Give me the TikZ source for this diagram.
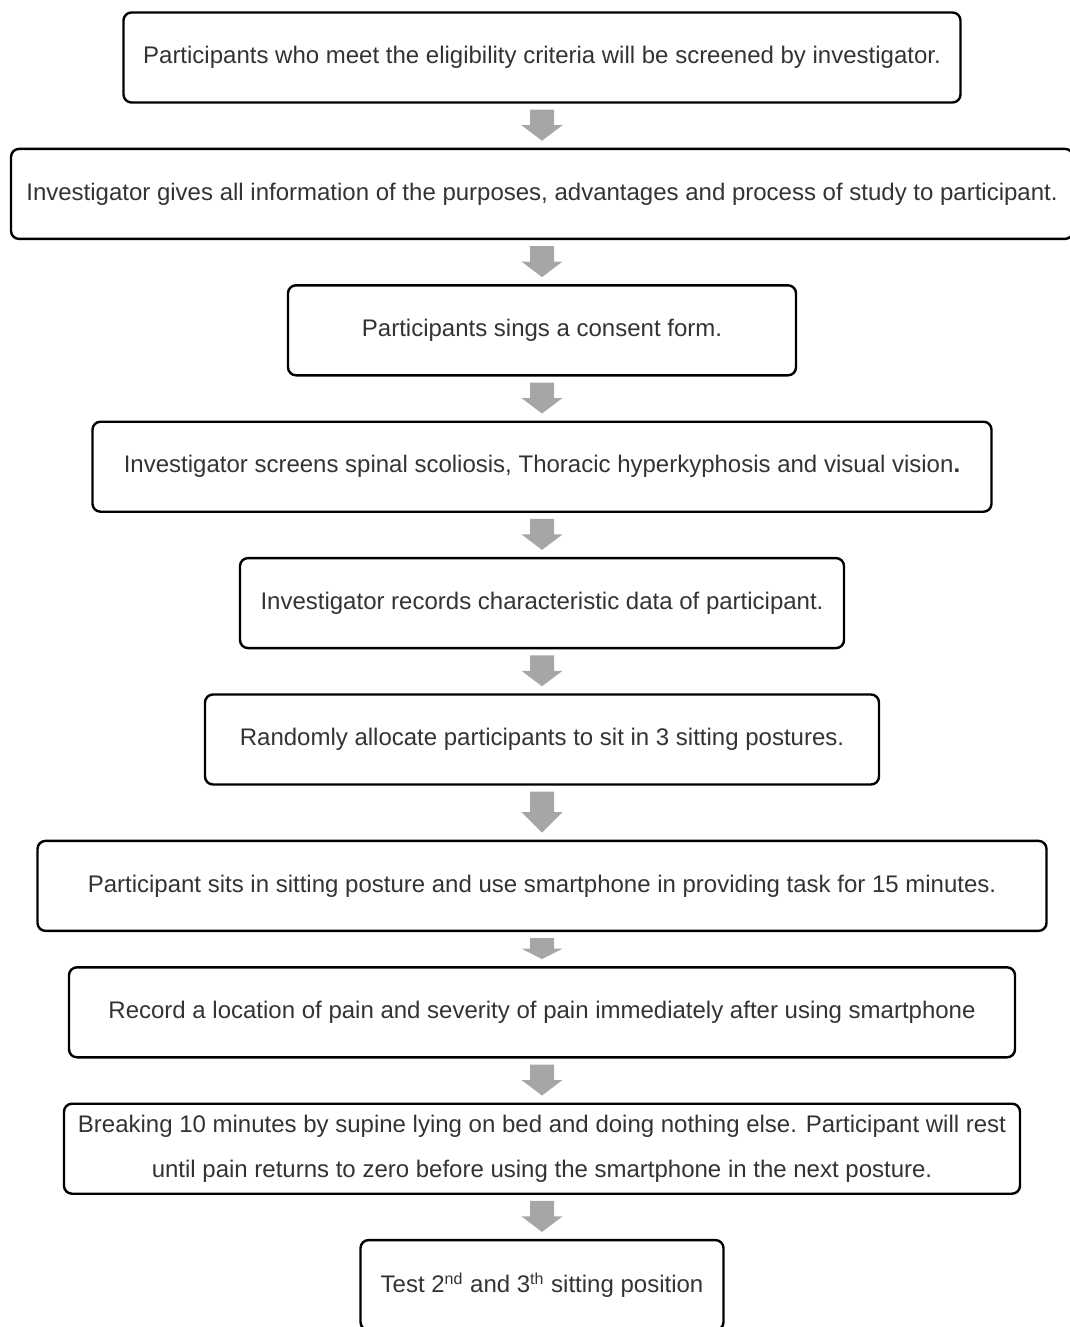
\documentclass[tikz,border=0pt]{standalone}
\usepackage{fontspec}
\setmainfont{Liberation Sans}
\usetikzlibrary{positioning,calc}
\tikzset{
  stepbox/.style   = {shape=rectangle, rounded corners=4pt,
                      draw=black, line width=1.2pt, align=center,
                      minimum height=45pt, inner sep=0pt,
                      text=black!80, font=\fontsize{12}{22.5}\selectfont},
  flowarrow/.style = {fill=black!35, draw=none},
}
% grey block arrow between two boxes
\newcommand{\blockarrow}[2]{%
  \coordinate (#1-top) at ($(#1.south)+(0,-3pt)$);
  \coordinate (#1-tip) at ($(#2.north)+(0,3.5pt)$);
  \coordinate (#1-mid) at ($(#1-top)!0.5!(#1-tip)$);
  \fill[flowarrow] ($(#1-top)+(-6pt,0)$) -- ($(#1-top)+(6pt,0)$)
    -- ($(#1-mid)+(6pt,0)$) -- ($(#1-mid)+(10.25pt,0)$) -- (#1-tip)
    -- ($(#1-mid)+(-10.25pt,0)$) -- ($(#1-mid)+(-6pt,0)$) -- cycle;}

\begin{document}
\begin{tikzpicture}[x=0.5pt, y=0.5pt, node distance=22pt]
    \clip (0,0) rectangle (1070,-1327);
    \node [stepbox, minimum width=418.5pt] (screen) at (542,-57.5)
        {Participants who meet the eligibility criteria will be screened by investigator.};
    \node [stepbox, minimum width=531pt, below=of screen] (inform)
        {Investigator gives all information of the purposes, advantages and process of study to participant.};
    \node [stepbox, minimum width=254pt, below=of inform] (consent)
        {Participants sings a consent form.};
    \node [stepbox, minimum width=449.5pt, below=of consent] (spine)
        {Investigator screens spinal scoliosis, Thoracic hyperkyphosis and visual vision\textbf{.}};
    \node [stepbox, minimum width=302pt, below=of spine] (record)
        {Investigator records characteristic data of participant.};
    \node [stepbox, minimum width=337pt, below=of record] (allocate)
        {Randomly allocate participants to sit in 3 sitting postures.};
    \node [stepbox, minimum width=504.5pt, below=27pt of allocate] (task)
        {Participant sits in sitting posture and use smartphone in providing task for 15 minutes.};
    \node [stepbox, minimum width=473pt, below=17pt of task] (pain)
        {Record a location of pain and severity of pain immediately after using smartphone};
    \node [stepbox, minimum width=478pt, below=of pain] (rest)
        {Breaking 10 minutes by supine lying on bed and doing nothing else. Participant will rest\\
         until pain returns to zero before using the smartphone in the next posture.};
    \node [stepbox, minimum width=181.5pt, below=of rest] (test)
        {Test 2\textsuperscript{nd} and 3\textsuperscript{th} sitting position};

    \blockarrow{screen}{inform}
    \blockarrow{inform}{consent}
    \blockarrow{consent}{spine}
    \blockarrow{spine}{record}
    \blockarrow{record}{allocate}
    \blockarrow{allocate}{task}
    \blockarrow{task}{pain}
    \blockarrow{pain}{rest}
    \blockarrow{rest}{test}
\end{tikzpicture}
\end{document}
